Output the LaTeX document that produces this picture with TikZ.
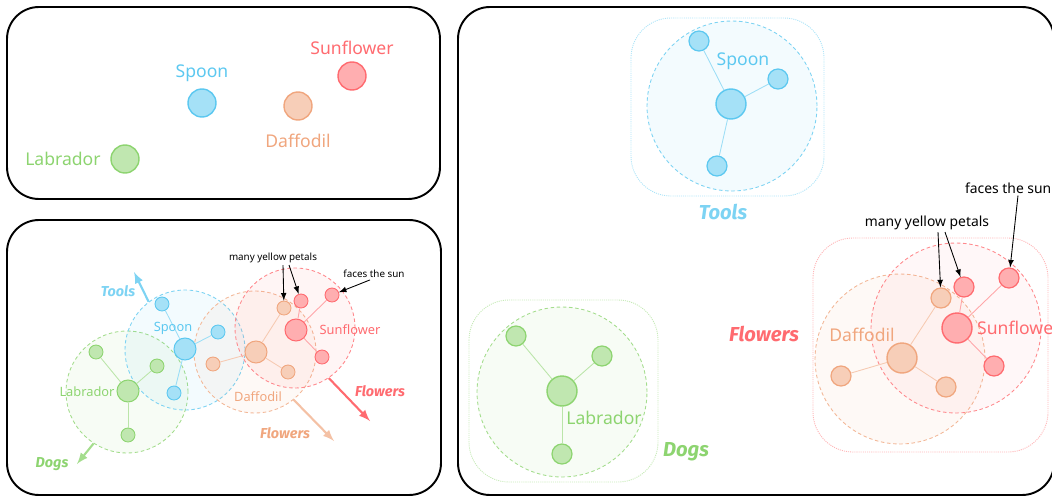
\documentclass[tikz,border=0pt]{standalone}
\usepackage{fontspec}
\setmainfont{Noto Sans}
\newfontfamily\tagfont{Fira Sans}
\usetikzlibrary{positioning}

\definecolor{toolblue}{HTML}{5CC8F0}
\definecolor{doggreen}{HTML}{8DD470}
\definecolor{daffpeach}{HTML}{F0A67E}
\definecolor{sunred}{HTML}{FF6B70}

\begin{document}
\begin{tikzpicture}[x=0.02cm, y=-0.02cm,
    % Define custom styles for panels, dots, groups and texts
    panel/.style={draw, line width=1.1pt, rounded corners=0.64cm},
    dot/.style={circle, draw=#1, fill=#1!55, line width=0.8pt, inner sep=0pt, minimum size=0.56cm},
    hugedot/.style={circle, draw=#1, fill=#1!55, line width=0.8pt, inner sep=0pt, minimum size=0.6cm},
    littledot/.style={circle, draw=#1, fill=#1!55, line width=0.7pt, inner sep=0pt, minimum size=0.4cm},
    bigdot/.style={circle, draw=#1, fill=#1!55, line width=0.6pt, inner sep=0pt, minimum size=0.44cm},
    smalldot/.style={circle, draw=#1, fill=#1!55, line width=0.5pt, inner sep=0pt, minimum size=0.28cm},
    group/.style={circle, draw=#1!80, dash pattern={on 2pt off 1.5pt}, fill=#1, fill opacity=0.07, inner sep=0pt, line width=0.5pt},
    box/.style={draw=#1!50, dash pattern={on 0.6pt off 0.6pt}, rounded corners=0.8cm, line width=0.5pt},
    link/.style={draw=#1!60, line width=0.5pt},
    word/.style={text=#1, font=\fontsize{10}{12}\selectfont},
    smallword/.style={text=#1, font=\fontsize{7.3}{9}\selectfont},
    tag/.style={text=#1, font=\tagfont\fontsize{11.5}{13}\selectfont\bfseries\itshape},
    smalltag/.style={text=#1, font=\tagfont\fontsize{8.2}{9.5}\selectfont\bfseries\itshape},
    note/.style={font=\fontsize{7.9}{9.5}\selectfont, inner sep=1pt},
    smallnote/.style={font=\fontsize{5.6}{7}\selectfont, inner sep=1pt},
    pointer/.style={->, >=latex, line width=0.5pt},
    move/.style={->, >=latex, draw=#1, line width=1.2pt}
]
\useasboundingbox (0,0) rectangle (1052,497);
\clip (0,0) rectangle (1052,497);

% Top panel: the words on their own
\draw[panel] (7,7) rectangle (440,199);
\node[dot=sunred, label={[word=sunred]above:Sunflower}] (F) at (352,76) {};
\node[dot=toolblue, label={[word=toolblue]above:Spoon}] (S) at (202,103) {};
\node[dot=daffpeach, label={[word=daffpeach, label distance=4pt]below:Daffodil}] (D) at (298,106) {};
\node[dot=doggreen, label={[word=doggreen, label distance=2pt]left:Labrador}] (L) at (125,159) {};

% Bottom panel: overlapping groups
\draw[panel] (7,220) rectangle (441,495);
\node[group=doggreen, minimum size=2.44cm] (G2) at (127,392) {};
\node[group=toolblue, minimum size=2.4cm] (T2) at (185,350) {};
\node[group=daffpeach, minimum size=2.44cm] (P2) at (255,352) {};
\node[group=sunred, minimum size=2.4cm] (R2) at (295,328) {};

\node[bigdot=doggreen] (L2) at (128,391) {};
\node[smalldot=doggreen] (L2a) at (96,352) {};
\node[smalldot=doggreen] (L2b) at (157,366) {};
\node[smalldot=doggreen] (L2c) at (128,435) {};
\node[bigdot=toolblue] (S2) at (185,349) {};
\node[smalldot=toolblue] (S2a) at (162,304) {};
\node[smalldot=toolblue] (S2b) at (218,332) {};
\node[smalldot=toolblue] (S2c) at (174,393) {};
\node[bigdot=daffpeach] (D2) at (256,352) {};
\node[smalldot=daffpeach] (D2a) at (213,364) {};
\node[smalldot=daffpeach] (D2b) at (284,308) {};
\node[smalldot=daffpeach] (D2c) at (288,372) {};
\node[bigdot=sunred] (F2) at (296,330) {};
\node[smalldot=sunred] (F2a) at (301,301) {};
\node[smalldot=sunred] (F2b) at (332,295) {};
\node[smalldot=sunred] (F2c) at (322,357) {};

\draw[link=doggreen] (L2) -- (L2a);
\draw[link=doggreen] (L2) -- (L2b);
\draw[link=doggreen] (L2) -- (L2c);
\draw[link=toolblue] (S2) -- (S2a);
\draw[link=toolblue] (S2) -- (S2b);
\draw[link=toolblue] (S2) -- (S2c);
\draw[link=daffpeach] (D2) -- (D2a);
\draw[link=daffpeach] (D2) -- (D2b);
\draw[link=daffpeach] (D2) -- (D2c);
\draw[link=sunred] (F2) -- (F2a);
\draw[link=sunred] (F2) -- (F2b);
\draw[link=sunred] (F2) -- (F2c);

\node[smallword=doggreen] (L2t) at (87,392) {Labrador};
\node[smallword=toolblue] (S2t) at (173,328) {Spoon};
\node[smallword=daffpeach] (D2t) at (258,397) {Daffodil};
\node[smallword=sunred] (F2t) at (350,330) {Sunflower};

\node[smallnote] (Y2) at (273,258) {many yellow petals};
\node[smallnote] (U2) at (374,274) {faces the sun};
\draw[pointer] ([xshift=0.2cm]Y2.south) -- (D2b);
\draw[pointer] ([xshift=0.32cm]Y2.south) -- (F2a);
\draw[pointer] ([xshift=-0.08cm]U2.south) -- (F2b);

% Arrows pulling the groups apart
\coordinate (Tt) at (134,272);
\coordinate (Gt) at (77,464);
\coordinate (Pt) at (334,441);
\coordinate (Rt) at (370,421);
\draw[move=toolblue!80] (T2.127) -- (Tt);
\draw[move=doggreen!80] (G2.237) -- (Gt);
\draw[move=daffpeach!70] (P2.309) -- (Pt);
\draw[move=sunred] (R2.304) -- (Rt);
\node[smalltag=toolblue!80] (T2n) at (118,291) {Tools};
\node[smalltag=doggreen] (G2n) at (52,464) {Dogs};
\node[smalltag=daffpeach] (P2n) at (285,433) {Flowers};
\node[smalltag=sunred] (R2n) at (380,391) {Flowers};

% Right panel: separated groups
\draw[panel] (458,7) rectangle (1054,495);
\draw[box=toolblue] (631,18) rectangle (824,196);
\draw[box=doggreen] (469,300) rectangle (658,482);
\draw[box=sunred] (813,238) rectangle (1048,452);

\node[group=toolblue, minimum size=3.4cm] (T3) at (732,106) {};
\node[group=doggreen, minimum size=3.4cm] (G3) at (562,392) {};
\node[group=daffpeach, minimum size=3.4cm] (P3) at (900,359) {};
\node[group=sunred, minimum size=3.4cm, fill opacity=0.05] (R3) at (956,328) {};

\node[hugedot=toolblue] (S3) at (731,104) {};
\node[littledot=toolblue] (S3a) at (699,41) {};
\node[littledot=toolblue] (S3b) at (778,79) {};
\node[littledot=toolblue] (S3c) at (717,166) {};
\node[hugedot=doggreen] (L3) at (562,391) {};
\node[littledot=doggreen] (L3a) at (516,336) {};
\node[littledot=doggreen] (L3b) at (602,356) {};
\node[littledot=doggreen] (L3c) at (562,454) {};
\node[hugedot=daffpeach] (D3) at (902,358) {};
\node[littledot=daffpeach] (D3a) at (841,376) {};
\node[littledot=daffpeach] (D3b) at (941,298) {};
\node[littledot=daffpeach] (D3c) at (946,387) {};
\node[hugedot=sunred] (F3) at (957,328) {};
\node[littledot=sunred] (F3a) at (964,287) {};
\node[littledot=sunred] (F3b) at (1009,278) {};
\node[littledot=sunred] (F3c) at (994,366) {};

\draw[link=toolblue] (S3) -- (S3a);
\draw[link=toolblue] (S3) -- (S3b);
\draw[link=toolblue] (S3) -- (S3c);
\draw[link=doggreen] (L3) -- (L3a);
\draw[link=doggreen] (L3) -- (L3b);
\draw[link=doggreen] (L3) -- (L3c);
\draw[link=daffpeach] (D3) -- (D3a);
\draw[link=daffpeach] (D3) -- (D3b);
\draw[link=daffpeach] (D3) -- (D3c);
\draw[link=sunred] (F3) -- (F3a);
\draw[link=sunred] (F3) -- (F3b);
\draw[link=sunred] (F3) -- (F3c);

\node[word=toolblue] (S3t) at (743,61) {Spoon};
\node[word=doggreen] (L3t) at (604,418) {Labrador};
\node[word=daffpeach] (D3t) at (862,335) {Daffodil};
\node[word=sunred, anchor=west] (F3t) at (971,328) {Sunflower};

\node[tag=toolblue!80] (T3n) at (723,212) {Tools};
\node[tag=doggreen] (G3n) at (686,452) {Dogs};
\node[tag=sunred] (R3n) at (764,334) {Flowers};

\node[note] (Y3) at (927,223) {many yellow petals};
\node[note, anchor=west] (U3) at (963,188) {faces the sun};
\draw[pointer] ([xshift=0.22cm]Y3.south) -- (D3b);
\draw[pointer] ([xshift=0.36cm]Y3.south) -- (F3a);
\draw[pointer] ([xshift=1.1cm]U3.south west) -- (F3b);

\end{tikzpicture}
\end{document}
